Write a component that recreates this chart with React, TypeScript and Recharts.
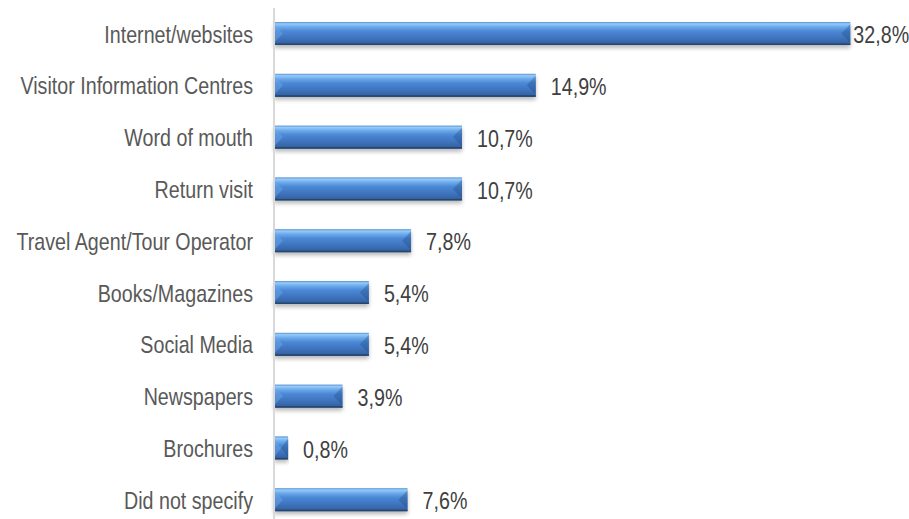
import { BarChart, Bar, XAxis, YAxis, LabelList } from "recharts";

const categories = [
  "Internet/websites",
  "Visitor Information Centres",
  "Word of mouth",
  "Return visit",
  "Travel Agent/Tour Operator",
  "Books/Magazines",
  "Social Media",
  "Newspapers",
  "Brochures",
  "Did not specify",
];
const shares = [32.8, 14.9, 10.7, 10.7, 7.8, 5.4, 5.4, 3.9, 0.8, 7.6];

const data = categories.map((name, i) => ({ name, value: shares[i] }));

const FONT = "'Liberation Sans', Arial, sans-serif";
// no narrow face installed, so squeeze the regular one
const SQUEEZE = 0.82;

const fmt = (v: number) => `${v.toFixed(1).replace(".", ",")}%`;

// cylinder-ish bar with bevelled ends and a soft shadow
function GlossBar(props: any) {
  const { x, y, width, height } = props;
  if (!width || width <= 0) return null;
  const b = Math.min(9, width / 2);
  return (
    <g>
      <rect
        x={x}
        y={y + 3}
        width={width}
        height={height}
        fill="#000"
        opacity={0.28}
        filter="url(#barShadow)"
      />
      <rect x={x} y={y} width={width} height={height} fill="url(#barFill)" />
      <polygon
        points={`${x},${y + 2} ${x + b},${y + height / 2} ${x},${y + height - 2}`}
        fill="#6aa6e8"
        opacity={0.5}
      />
      <polygon
        points={`${x + width},${y + 2} ${x + width - b},${y + height / 2} ${x + width},${y + height - 2}`}
        fill="#1f4a80"
        opacity={0.35}
      />
      <rect x={x} y={y + height - 1.5} width={width} height={1.5} fill="#24466f" />
    </g>
  );
}

function NameTick(props: any) {
  const { x, y, payload } = props;
  return (
    <g transform={`translate(${x},${y}) scale(${SQUEEZE},1)`}>
      <text
        x={0}
        y={0}
        dy="0.36em"
        textAnchor="end"
        fill="#595959"
        fontSize={24}
        fontFamily={FONT}
      >
        {payload.value}
      </text>
    </g>
  );
}

function ValueLabel(props: any) {
  const { x, y, width, height, value } = props;
  // the longest bar's label sits tight against its end
  const gap = value > 30 ? 3 : 15;
  return (
    <g transform={`translate(${x + width + gap},${y + height / 2 + 1}) scale(${SQUEEZE},1)`}>
      <text x={0} y={0} dy="0.36em" fill="#404040" fontSize={24} fontFamily={FONT}>
        {fmt(value)}
      </text>
    </g>
  );
}

export default function App() {
  return (
    <div
      style={{
        position: "absolute",
        left: 0,
        top: 0,
        width: 909,
        height: 519,
        overflow: "hidden",
        background: "#fff",
      }}
    >
      <BarChart
        width={909}
        height={530}
        data={data}
        layout="vertical"
        margin={{ top: 8, right: 20, bottom: 4, left: 0 }}
        barSize={23}
      >
        <defs>
          <linearGradient id="barFill" x1="0" y1="0" x2="0" y2="1">
            <stop offset="0%" stopColor="#5a8fd2" />
            <stop offset="8%" stopColor="#94cbf9" />
            <stop offset="22%" stopColor="#6ca9ea" />
            <stop offset="40%" stopColor="#4b88d6" />
            <stop offset="70%" stopColor="#3f73bd" />
            <stop offset="92%" stopColor="#3564a4" />
            <stop offset="100%" stopColor="#284a79" />
          </linearGradient>
          <filter id="barShadow" x="-5%" y="-50%" width="110%" height="200%">
            <feGaussianBlur stdDeviation="2" />
          </filter>
        </defs>
        <XAxis type="number" domain={[0, 35]} hide />
        <YAxis
          type="category"
          dataKey="name"
          width={274}
          tickLine={false}
          tickSize={0}
          tickMargin={21}
          axisLine={{ stroke: "#d9d9d9", strokeWidth: 2 }}
          tick={<NameTick />}
          interval={0}
        />
        <Bar dataKey="value" shape={<GlossBar />} isAnimationActive={false}>
          <LabelList dataKey="value" content={<ValueLabel />} />
        </Bar>
      </BarChart>
    </div>
  );
}
